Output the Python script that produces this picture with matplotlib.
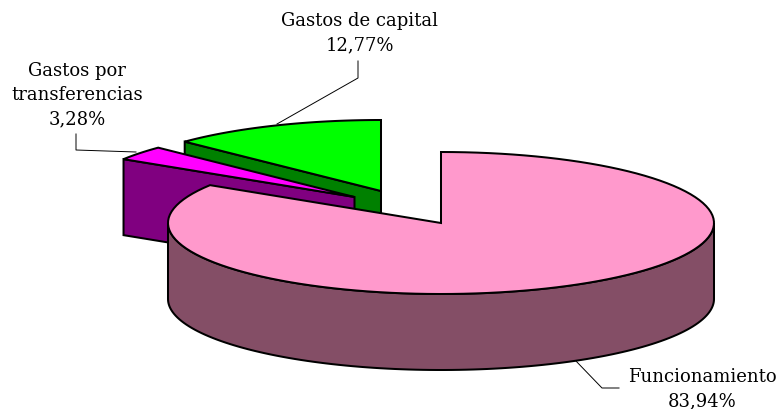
import numpy as np
import matplotlib
matplotlib.use("Agg")
import matplotlib.pyplot as plt
from matplotlib.patches import Polygon

categories = ["Funcionamiento", "Gastos por\ntransferencias", "Gastos de capital"]
values = [83.94, 3.28, 12.77]
value_labels = ["83,94%", "3,28%", "12,77%"]
top_colors = ["#FF99CC", "#FF00FF", "#00FF00"]
side_colors = ["#844E66", "#800080", "#008000"]

centers = [(441, 224), (354.5, 198), (381, 192)]
RX, RY, DEPTH = 273, 71, 76
LW = 1.45

fig = plt.figure(figsize=(7.78, 4.10), dpi=100)
ax = fig.add_axes([0, 0, 1, 1])
ax.set_xlim(0, 778)
ax.set_ylim(410, 0)
ax.axis("off")


def rim(c, a0, a1, dy=0, n=120):
    t = np.radians(np.linspace(a0, a1, n))
    return np.column_stack([c[0] + RX * np.sin(t), c[1] - RY * np.cos(t) + dy])


def shape(pts, color, z):
    ax.add_patch(Polygon(pts, closed=True, facecolor=color, edgecolor="black",
                         lw=LW, joinstyle="miter", zorder=z))


# start angle of each slice, clockwise from 12 o'clock
total = sum(values)
edges = np.concatenate([[0], np.cumsum(values) / total * 360])

# draw back slices first: capital, transfers, then operating costs
for i, z in [(2, 2), (1, 4), (0, 6)]:
    a0, a1 = edges[i], edges[i + 1]
    c = centers[i]
    if i == 0:
        # curved outer wall visible at the front
        front = rim(c, 90, 270)
        shape(np.vstack([front, rim(c, 270, 90, DEPTH)]), side_colors[i], z)
    else:
        # cut face turned toward the viewer
        p = rim(c, a0, a0, n=1)[0]
        shape([p, c, (c[0], c[1] + DEPTH), (p[0], p[1] + DEPTH)], side_colors[i], z)
    shape(np.vstack([[c], rim(c, a0, a1)]), top_colors[i], z + 1)

leaders = [
    ([575, 602, 619], [361, 389, 389]),
    ([76, 76, 136], [135, 151, 153]),
    ([358, 358, 277], [62, 79, 125]),
]
for xs, ys in leaders:
    ax.plot(xs, ys, color="black", lw=0.7, zorder=1)

label_x = [702.5, 77, 360]
label_y = [389, 95, 33.5]
for name, val, x, y in zip(categories, value_labels, label_x, label_y):
    ax.text(x, y, f"{name}\n{val}", ha="center", va="center", family="DejaVu Serif",
            fontsize=13, color="black", linespacing=1.46, zorder=10)

fig.savefig("out.png", dpi=100)
